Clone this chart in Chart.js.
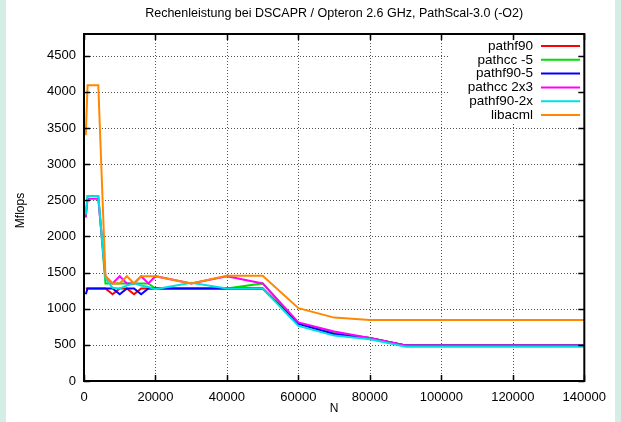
<!DOCTYPE html>
<html><head><meta charset="utf-8">
<script src="https://cdn.jsdelivr.net/npm/chart.js@4"></script>
<style>
html,body{margin:0;padding:0;background:#d4eee5;width:621px;height:422px;overflow:hidden}
#wrap{position:absolute;left:6px;top:0;width:609px;height:422px;background:#fff}
</style></head><body>
<div id="wrap"><canvas id="c" width="609" height="422"></canvas></div>
<script>
const titleText = "Rechenleistung bei DSCAPR / Opteron 2.6 GHz, PathScal-3.0 (-O2)";
const xTitle = "N";
const yTitle = "Mflops";
const N = [500,1000,2000,4000,6000,8000,10000,12000,14000,16000,18000,20000,30000,40000,50000,60000,70000,80000,90000,100000,110000,120000,130000,140000];
const pathf90   = [1280,1280,1280,1280,1280,1200,1280,1280,1200,1280,1280,1280,1280,1280,1280,800,660,595,490,490,490,490,490,490];
const pathcc5   = [2300,2560,2560,2560,1350,1350,1350,1350,1350,1350,1350,1280,1280,1280,1350,800,660,595,490,490,490,490,490,495];
const pathf90_5 = [1200,1280,1280,1280,1280,1280,1200,1280,1280,1200,1280,1280,1280,1280,1280,790,650,590,490,490,490,490,490,490];
const pathcc2x3 = [2260,2520,2520,2520,1450,1350,1450,1350,1350,1450,1350,1450,1350,1450,1350,810,685,595,490,490,490,490,490,490];
const pathf90_2x= [2300,2560,2560,2560,1420,1290,1280,1320,1350,1320,1300,1270,1360,1280,1280,762,628,577,475,475,475,475,475,475];
const libacml   = [3400,4090,4090,4090,1450,1350,1350,1450,1350,1450,1450,1450,1350,1455,1455,1007,877,845,845,845,845,845,845,845];
const seriesNames = ["pathf90","pathcc -5","pathf90-5","pathcc 2x3","pathf90-2x","libacml"];
const seriesValues = [pathf90,pathcc5,pathf90_5,pathcc2x3,pathf90_2x,libacml];
const seriesColors = ["#ff0000","#00dd00","#0000ff","#ff00ff","#00e0e0","#ff8800"];
const xTicks = [0,20000,40000,60000,80000,100000,120000,140000];
const yTicks = [0,500,1000,1500,2000,2500,3000,3500,4000,4500];

const FONT = "Liberation Sans, Arial, sans-serif";

const datasets = seriesValues.map((vals,i)=>({
  label: seriesNames[i],
  data: N.map((n,j)=>({x:n,y:vals[j]})),
  borderColor: seriesColors[i],
  backgroundColor: seriesColors[i],
  borderWidth: 2,
  pointRadius: 0,
  tension: 0,
  fill: false,
  order: seriesNames.length - i
}));

const gp = {
  id: 'gp',
  beforeDatasetsDraw(chart){
    const {ctx, chartArea:a, scales:{x,y}} = chart;
    ctx.save();
    ctx.strokeStyle = '#555';
    ctx.lineWidth = 1;
    ctx.setLineDash([1,2]);
    xTicks.forEach(v=>{
      if (v<=x.min || v>=x.max) return;
      const px = Math.round(x.getPixelForValue(v))+0.5;
      ctx.beginPath(); ctx.moveTo(px,a.top); ctx.lineTo(px,a.bottom); ctx.stroke();
    });
    yTicks.forEach(v=>{
      if (v<=y.min || v>=y.max) return;
      const py = Math.round(y.getPixelForValue(v))+0.5;
      ctx.beginPath(); ctx.moveTo(a.left,py); ctx.lineTo(a.right,py); ctx.stroke();
    });
    ctx.restore();
  },
  afterDatasetsDraw(chart){
    const {ctx, chartArea:a, scales:{x,y}} = chart;
    ctx.save();
    // key box (opaque)
    ctx.fillStyle = '#fff';
    ctx.fillRect(442, a.top, a.right - 442, 122 - a.top);
    // legend
    ctx.font = "13.5px " + FONT;
    ctx.textAlign = 'right';
    ctx.textBaseline = 'middle';
    chart.data.datasets.forEach((ds,i)=>{
      const yy = 46 + i*13.8;
      ctx.fillStyle = '#000';
      ctx.fillText(ds.label, 527, yy);
      ctx.strokeStyle = ds.borderColor;
      ctx.lineWidth = 2;
      ctx.beginPath(); ctx.moveTo(535, yy); ctx.lineTo(574, yy); ctx.stroke();
    });
    // border
    ctx.strokeStyle = '#000';
    ctx.lineWidth = 2;
    ctx.strokeRect(a.left, a.top, a.right-a.left, a.bottom-a.top);
    // inward ticks
    ctx.lineWidth = 1.5;
    const tl = 6;
    xTicks.forEach(v=>{
      const px = Math.round(x.getPixelForValue(v))+0.5;
      ctx.beginPath();
      ctx.moveTo(px,a.bottom); ctx.lineTo(px,a.bottom-tl);
      ctx.moveTo(px,a.top); ctx.lineTo(px,a.top+tl);
      ctx.stroke();
    });
    yTicks.forEach(v=>{
      const py = Math.round(y.getPixelForValue(v))+0.5;
      ctx.beginPath();
      ctx.moveTo(a.left,py); ctx.lineTo(a.left+tl,py);
      ctx.moveTo(a.right,py); ctx.lineTo(a.right-tl,py);
      ctx.stroke();
    });
    // title
    ctx.fillStyle = '#000';
    ctx.font = "12.5px " + FONT;
    ctx.textAlign = 'center';
    ctx.textBaseline = 'middle';
    ctx.fillText(titleText, (a.left+a.right)/2, 14);
    ctx.font = "12px " + FONT;
    ctx.fillText(xTitle, (a.left+a.right)/2, 409);
    ctx.translate(15, (a.top+a.bottom)/2 + 3);
    ctx.rotate(-Math.PI/2);
    ctx.fillText(yTitle, 0, 0);
    ctx.restore();
  }
};

new Chart(document.getElementById('c'), {
  type: 'line',
  data: { datasets },
  options: {
    responsive: false,
    animation: false,
    devicePixelRatio: 1,
    layout: { padding: { top: 34, right: 20, left: 0, bottom: 0 } },
    plugins: { legend: { display: false }, title: { display: false }, tooltip: { enabled: false } },
    scales: {
      x: {
        type: 'linear', min: 0, max: 140000,
        afterBuildTicks: s => { s.ticks = xTicks.map(v=>({value:v})); },
        afterFit: s => { s.height = 41; },
        ticks: { color: '#000', font: { family: FONT, size: 13 }, padding: 9, maxRotation: 0, autoSkip: false, callback: v => String(v) },
        grid: { display: false, drawTicks: false },
        border: { display: false }
      },
      y: {
        type: 'linear', min: 0, max: 4800,
        afterBuildTicks: s => { s.ticks = yTicks.map(v=>({value:v})); },
        afterFit: s => { s.width = 78; },
        ticks: { color: '#000', font: { family: FONT, size: 13 }, padding: 8, callback: v => String(v) },
        grid: { display: false, drawTicks: false },
        border: { display: false }
      }
    }
  },
  plugins: [gp]
});
</script>
</body></html>
